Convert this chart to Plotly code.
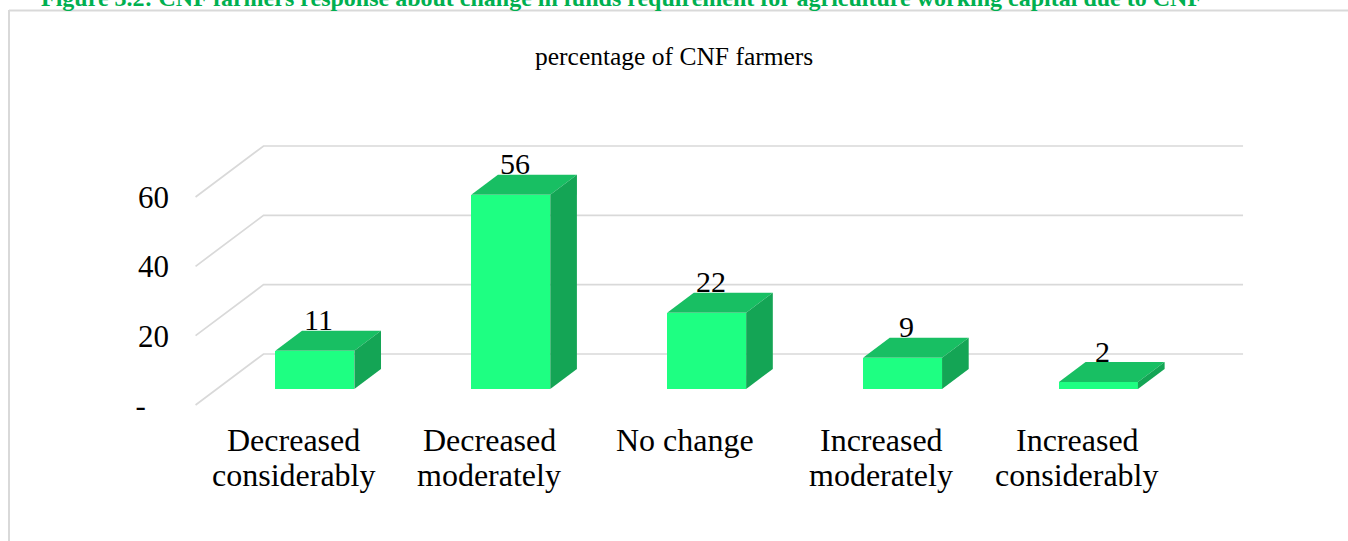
import plotly.graph_objects as go

# ---- data ----
categories = [
    "Decreased<br>considerably",
    "Decreased<br>moderately",
    "No change",
    "Increased<br>moderately",
    "Increased<br>considerably",
]
values = [11, 56, 22, 9, 2]
y_ticks = [0, 20, 40, 60]
y_tick_text = ["-\u00a0\u00a0\u00a0", "20", "40", "60"]

chart_title = "percentage of CNF farmers"
caption = ("Figure 3.2: CNF farmers response about change in funds requirement "
           "for agriculture working capital due to CNF")

# ---- page / projection geometry (pixels) ----
W, H = 1348, 541
CAT_PX = 195.9      # width of one category slot on the front edge
X0_PX = 293.5       # pixel x of category 0 on the front edge
UNIT_PX = 3.467     # pixels per value unit
Y0_PX = 405         # pixel y of value 0 on the front edge
DEPTH_DX_PX = 68    # floor depth, horizontal shift
DEPTH_DY_PX = 51    # floor depth, vertical shift (upwards)

L, R, T, B = 170, 40, 100, 121
PW, PH = W - L - R, H - T - B
x_range = [(L - X0_PX) / CAT_PX, (W - R - X0_PX) / CAT_PX]
y_range = [(Y0_PX - (H - B)) / UNIT_PX, (Y0_PX - T) / UNIT_PX]

DX = DEPTH_DX_PX / CAT_PX
DY = DEPTH_DY_PX / UNIT_PX
F0, F1 = 0.314, 0.706          # bar front / back depth
BAR_W = 79 / CAT_PX            # bar width in category units

FRONT = "#1EFF82"
TOP = "#18BF63"
SIDE = "#14A555"
GRID = "#D9D9D9"
FONT = "Liberation Serif, Times New Roman, serif"
DESCENT = 0.216                # font descent, em

CAT_FONT = 32
CAT_BASELINES = [452, 487]     # pixel baselines of the two label lines


def proj(c, v, d):
    """Oblique projection of (category, value, depth) into axis units."""
    return c + d * DX, v + d * DY


def px_to_paper_x(px):
    return (px - L) / PW


def px_to_paper_y(py):
    return (H - B - py) / PH


fig = go.Figure()

# front faces of the columns
xs_front = [i + F0 * DX for i in range(len(values))]
fig.add_trace(go.Bar(
    x=xs_front, y=values, base=F0 * DY, width=BAR_W,
    marker=dict(color=FRONT, line=dict(width=0)),
    hoverinfo="skip", showlegend=False,
))

# top and side faces
for i, v in enumerate(values):
    xl, xr = i - BAR_W / 2, i + BAR_W / 2
    top = [proj(xl, v, F0), proj(xr, v, F0), proj(xr, v, F1), proj(xl, v, F1)]
    side = [proj(xr, 0, F0), proj(xr, 0, F1), proj(xr, v, F1), proj(xr, v, F0)]
    for poly, col in ((top, TOP), (side, SIDE)):
        px_, py_ = zip(*(poly + [poly[0]]))
        fig.add_trace(go.Scatter(
            x=list(px_), y=list(py_), mode="lines", fill="toself",
            fillcolor=col, line=dict(width=0, color=col),
            hoverinfo="skip", showlegend=False,
        ))

# wall / floor gridlines
shapes = []
n = len(values)
for v in y_ticks:
    a = proj(-0.5, v, 0)
    b = proj(-0.5, v, 1)
    c = proj(n - 0.5, v, 1)
    shapes.append(dict(
        type="path", xref="x", yref="y", layer="below",
        path=f"M {a[0]},{a[1]} L {b[0]},{b[1]} L {c[0]},{c[1]}",
        line=dict(color=GRID, width=1.7),
    ))

# chart frame (left and top edges)
shapes.append(dict(type="line", xref="paper", yref="paper",
                   x0=px_to_paper_x(9), x1=px_to_paper_x(9),
                   y0=px_to_paper_y(10), y1=px_to_paper_y(H + 5),
                   line=dict(color=GRID, width=2)))
shapes.append(dict(type="line", xref="paper", yref="paper",
                   x0=px_to_paper_x(9), x1=px_to_paper_x(W + 5),
                   y0=px_to_paper_y(10.5), y1=px_to_paper_y(10.5),
                   line=dict(color=GRID, width=2)))

annotations = []
# value labels sitting on the back edge of each column top
for i, v in enumerate(values):
    xa, ya = proj(i, v, F1)
    annotations.append(dict(
        x=i + F0 * DX, y=ya, xref="x", yref="y", text=str(v),
        showarrow=False, xanchor="center", yanchor="bottom",
        xshift=4, yshift=-7.5,
        font=dict(family=FONT, size=30, color="#000000"),
    ))

# category labels, one annotation per text line
for i, label in enumerate(categories):
    for k, line in enumerate(label.split("<br>")):
        annotations.append(dict(
            x=i, xref="x", yref="paper",
            y=px_to_paper_y(CAT_BASELINES[k] + DESCENT * CAT_FONT + 1),
            text=line, showarrow=False, xanchor="center", yanchor="bottom",
            font=dict(family=FONT, size=CAT_FONT, color="#000000"),
        ))

annotations.append(dict(
    x=px_to_paper_x(674), y=px_to_paper_y(67 + DESCENT * 25 + 1),
    xref="paper", yref="paper",
    text=chart_title, showarrow=False, xanchor="center", yanchor="bottom",
    font=dict(family=FONT, size=25.5, color="#000000"),
))
annotations.append(dict(
    x=px_to_paper_x(39), y=px_to_paper_y(7 + DESCENT * 24 + 1),
    xref="paper", yref="paper",
    text=f"<b>{caption}</b>", showarrow=False, xanchor="left", yanchor="bottom",
    font=dict(family=FONT, size=24, color="#00B050"),
))

fig.update_layout(
    width=W, height=H, autosize=False,
    margin=dict(l=L, r=R, t=T, b=B, pad=0),
    paper_bgcolor="white", plot_bgcolor="white",
    shapes=shapes, annotations=annotations,
    bargap=0, showlegend=False,
    xaxis=dict(
        range=x_range, showticklabels=False, showgrid=False,
        zeroline=False, showline=False, ticks="", fixedrange=True,
    ),
    yaxis=dict(
        range=y_range, tickmode="array", tickvals=y_ticks,
        ticktext=y_tick_text, showgrid=False, zeroline=False, showline=False,
        ticks="", tickfont=dict(family=FONT, size=31, color="#000000"),
        fixedrange=True,
    ),
)

fig.write_html("out.html")
